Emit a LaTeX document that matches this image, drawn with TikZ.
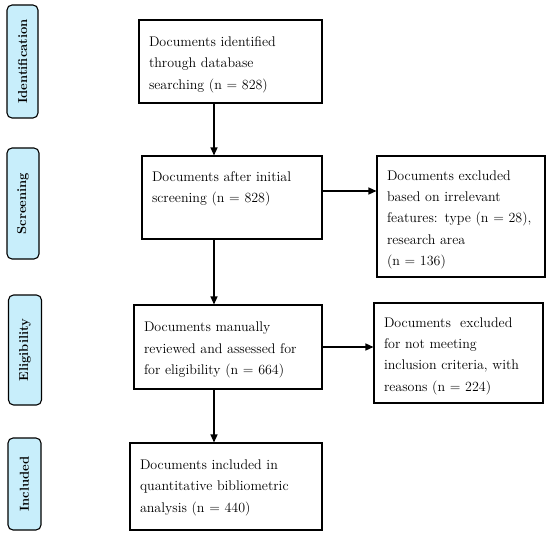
\documentclass[tikz,border=0pt]{standalone}
\usetikzlibrary{arrows.meta}
\definecolor{stagefill}{HTML}{C8EEFB}
\newcommand{\dnstrut}{\rule{0pt}{16pt}}
\begin{document}
\begin{tikzpicture}[x=1pt,y=-1pt,
  stage/.style={draw=black,line width=1.1pt,fill=stagefill,rounded corners=5pt,rotate=90,
    inner sep=0pt,font=\fontsize{13}{15}\selectfont\bfseries},
  box/.style={draw=black,line width=1.1pt,inner xsep=10pt,inner ysep=0pt,align=left,
    font=\fontsize{14}{21.3}\selectfont},
  arr/.style={line width=1.3pt,-{Triangle[length=8pt,width=7pt]}}]
\useasboundingbox (0,0) rectangle (550,535);
\coordinate (ax) at (214,0);
% stage labels
\node[stage,minimum width=113pt,minimum height=31pt] (sid) at (22.5,61.5) {Identification};
\node[stage,minimum width=111pt,minimum height=32pt] (ssc) at (23,203.5) {Screening};
\node[stage,minimum width=110pt,minimum height=33pt] (sel) at (25,350) {Eligibility};
\node[stage,minimum width=92pt,minimum height=33pt] (sin) at (24.5,484) {Included};
% main boxes
\node[box,text width=163pt,minimum height=83pt] (b1) at (230.5,61.5)
  {\dnstrut Documents identified\\through database\\searching (n = 828)};
\node[box,text width=160pt,minimum height=83pt] (b2) at (232,197.5)
  {Documents after initial\\screening (n = 828)\\\mbox{}};
\node[box,text width=168pt,minimum height=84pt] (b3) at (228,347)
  {\dnstrut Documents manually\\reviewed and assessed for\\for eligibility (n = 664)};
\node[box,text width=172pt,minimum height=87pt] (b4) at (226,486.5)
  {\rule{0pt}{12pt}Documents included in\\quantitative bibliometric\\analysis (n = 440)};
% side boxes
\node[box,text width=148pt,minimum height=121pt] (e1) at (461,216.5)
  {\dnstrut Documents excluded\\based on irrelevant\\features: type (n = 28),\\research area\\(n = 136)};
\node[box,text width=149pt,minimum height=100pt] (e2) at (458.5,353)
  {\dnstrut Documents~ excluded\\for not meeting\\inclusion criteria, with\\reasons (n = 224)};
% arrows
\draw[arr] (b1.south -| ax) -- (b2.north -| ax);
\draw[arr] (b2.south -| ax) -- (b3.north -| ax);
\draw[arr] (b3.south -| ax) -- (b4.north -| ax);
\draw[arr] (b2.east |- 0,191) -- (e1.west |- 0,191);
\draw[arr] (b3.east |- 0,347) -- (e2.west |- 0,347);
\end{tikzpicture}
\end{document}
